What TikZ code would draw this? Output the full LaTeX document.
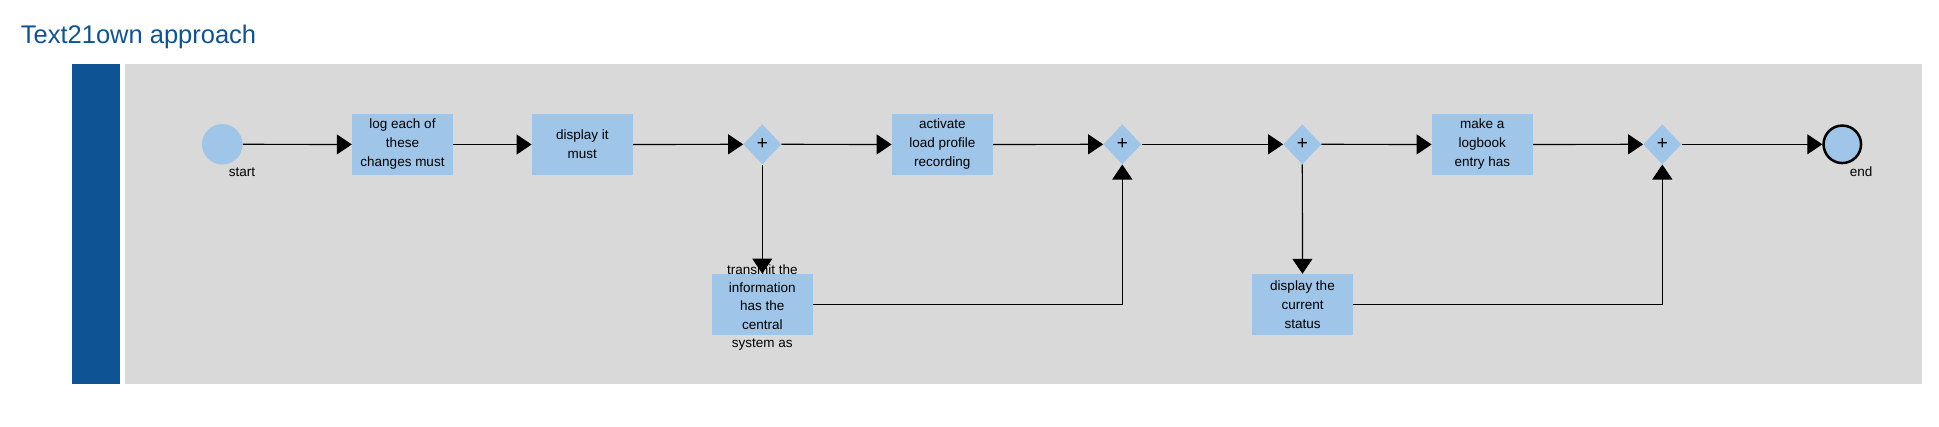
\documentclass[tikz,border=0pt]{standalone}
\usepackage{fontspec}
\setmainfont{Liberation Sans}
\usetikzlibrary{arrows.meta,shapes.geometric}
\definecolor{lanebar}{RGB}{14,84,148}
\definecolor{lanegray}{RGB}{217,217,217}
\definecolor{taskblue}{RGB}{159,197,232}
\tikzset{
	task/.style={fill=taskblue, minimum width=101pt, minimum height=61pt, inner sep=0pt, align=center, font=\fontsize{13.5}{19}\selectfont},
	tasktext/.style={inner sep=0pt, align=center, font=\fontsize{13.5}{18.4}\selectfont},
	gate/.style={diamond, aspect=1, fill=taskblue, minimum width=38pt, minimum height=40pt, inner sep=0pt, font=\fontsize{19}{19}\selectfont},
	flow/.style={line width=1.2pt, -{Triangle[length=15pt,width=20pt]}},
	evlabel/.style={anchor=base, inner sep=0pt, font=\fontsize{13.5}{16}\selectfont}
}

\begin{document}
\begin{tikzpicture}[x=1pt, y=-1pt]
				\useasboundingbox[fill=white] (0,0) rectangle (1939,426);
				\node[anchor=base west, inner sep=0pt, text=lanebar, font=\fontsize{25.5}{30}\selectfont] (title) at (20.7,43.3) {Text21own approach};
				
				\fill[lanebar] (72,64) rectangle (120,384);
				\fill[lanegray] (125,64) rectangle (1922,384);
				
				\node[circle, fill=taskblue, minimum size=40.5pt, inner sep=0pt] (start) at (222.3,144.3) {};
				\node[evlabel] (startlbl) at (242,176.7) {start};
				\node[task] (logchanges) at (402.5,144.5) {log each of\\these\\changes must};
				\node[task] (displayit) at (582.3,144.5) {display it\\must};
				\node[gate] (gw1) at (762.3,144.3) {+};
				\node[task] (loadprofile) at (942.3,144.5) {activate\\load profile\\recording};
				\node[gate] (gw2) at (1122.3,144.3) {+};
				\node[gate] (gw3) at (1302.3,144.3) {+};
				\node[task] (logbook) at (1482.3,144.5) {make a\\logbook\\entry has};
				\node[gate] (gw4) at (1662.3,144.3) {+};
				\node[circle, draw=black, line width=2.5pt, fill=taskblue, minimum size=37.5pt, inner sep=0pt] (end) at (1842.3,144.3) {};
				\node[evlabel] (endlbl) at (1861,176.5) {end};
				
				\node[task] (transmit) at (762.3,304.3) {};
				\node[task] (status) at (1302.5,304.5) {display the\\current\\status};
				
				\draw[flow] (start) -- (logchanges);
				\draw[flow] (logchanges) -- (displayit);
				\draw[flow] (displayit) -- (gw1);
				\draw[flow] (gw1) -- (loadprofile);
				\draw[flow] (loadprofile) -- (gw2);
				\draw[flow] (gw2) -- (gw3);
				\draw[flow] (gw3) -- (logbook);
				\draw[flow] (logbook) -- (gw4);
				\draw[flow] (gw4) -- (end);
				\draw[flow] (gw1) -- (transmit);
				\draw[flow] (transmit.east) -| (gw2.south);
				\draw[flow] (gw3) -- (status);
				\draw[flow] (status.east) -| (gw4.south);
				
				\node[tasktext] (transmittxt) at (762.3,307.5) {transmit the\\information\\has the\\central\\system as};
			\end{tikzpicture}
\end{document}
